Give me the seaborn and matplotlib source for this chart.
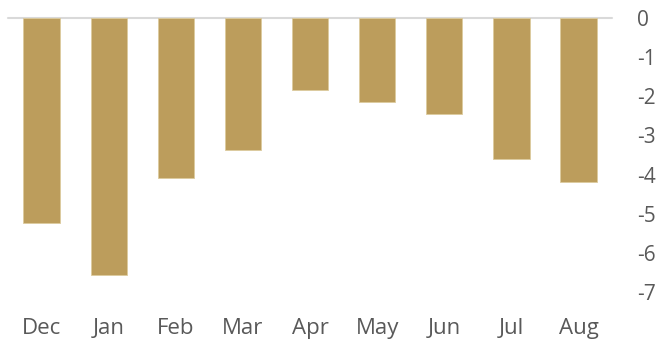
import pandas as pd
import matplotlib.pyplot as plt
import seaborn as sns

# Monthly values
months = ['Dec', 'Jan', 'Feb', 'Mar', 'Apr', 'May', 'Jun', 'Jul', 'Aug']
values = [-5.25, -6.57, -4.1, -3.38, -1.84, -2.15, -2.46, -3.6, -4.19]
y_ticks = [0, -1, -2, -3, -4, -5, -6, -7]

df = pd.DataFrame({'month': months, 'value': values})

sns.set_style("white")
plt.rcParams['font.family'] = ['Open Sans', 'DejaVu Sans']

fig = plt.figure(figsize=(6.58, 3.42), dpi=100)
ax = fig.add_axes([0.0122, 0.1462, 0.918, 0.8012])

sns.barplot(x='month', y='value', data=df, color='#BC9D5C', width=0.54,
            saturation=1, edgecolor='#DCCB9E', linewidth=0.6, ax=ax)

ax.axhline(0, color='#D9D9D9', linewidth=1.5, clip_on=False, zorder=0)
ax.set_xlim(-0.5, 8.5)
ax.set_ylim(-7, 0)
ax.yaxis.tick_right()
ax.set_yticks(y_ticks)
ax.set_yticklabels([str(t) if t == 0 else '-' + str(abs(t)) for t in y_ticks])
ax.tick_params(axis='both', length=0, labelcolor='#595959')
ax.tick_params(axis='y', pad=18, labelsize=15)
ax.tick_params(axis='x', pad=19, labelsize=16)
ax.set_xlabel('')
ax.set_ylabel('')
for s in ax.spines.values():
    s.set_visible(False)

fig.savefig('out.png', dpi=100)
